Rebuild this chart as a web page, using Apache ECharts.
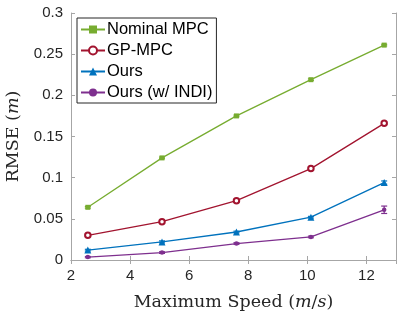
<!DOCTYPE html>
<html><head><meta charset="utf-8">
<script src="https://cdn.jsdelivr.net/npm/echarts@6/dist/echarts.min.js"></script>
<style>html,body{margin:0;padding:0;background:#fff}#c{width:407px;height:312px}</style>
</head><body><div id="c"></div>
<script>
const speeds = [2.57, 5.08, 7.6, 10.12, 12.6];
const seriesNames = ['Nominal MPC', 'GP-MPC', 'Ours', 'Ours (w/ INDI)'];
const nominal = [0.064, 0.124, 0.175, 0.219, 0.261];
const gpmpc = [0.030, 0.0465, 0.072, 0.111, 0.166];
const ours = [0.012, 0.022, 0.034, 0.052, 0.094];
const oursIndi = [0.0035, 0.009, 0.020, 0.028, 0.061];
const errNominal = [0.001, 0.001, 0.001, 0.001, 0.001];
const errGp = [0.001, 0.001, 0.001, 0.001, 0.0012];
const errOurs = [0.001, 0.0012, 0.001, 0.001, 0.002];
const errIndi = [0.0008, 0.001, 0.001, 0.001, 0.0045];
const xTicks = [2, 4, 6, 8, 10, 12];
const yTicks = [0, 0.05, 0.1, 0.15, 0.2, 0.25, 0.3];

const colors = ['#77AC30', '#A2142F', '#0072BD', '#7E2F8E'];
const symbols = ['rect', 'emptyCircle', 'triangle', 'circle'];
const symSizes = [5, 5.5, 7, 4.5];
const vals = [nominal, gpmpc, ours, oursIndi];
const errs = [errNominal, errGp, errOurs, errIndi];

const chart = echarts.init(document.getElementById('c'));
const axisGrey = '#a6a6a6';
const series = [];
vals.forEach((v, i) => {
  series.push({
    name: seriesNames[i], type: 'line', xAxisIndex: 0, yAxisIndex: 0,
    data: speeds.map((s, k) => [s, v[k]]),
    symbol: symbols[i], symbolSize: symSizes[i],
    itemStyle: { color: colors[i], borderWidth: 1.5 },
    lineStyle: { width: 1.3, color: colors[i] }, z: 3
  });
  series.push({
    name: seriesNames[i], type: 'custom', xAxisIndex: 0, yAxisIndex: 0,
    data: speeds.map((s, k) => [s, v[k] - errs[i][k], v[k] + errs[i][k]]),
    renderItem: (params, api) => {
      const lo = api.coord([api.value(0), api.value(1)]);
      const hi = api.coord([api.value(0), api.value(2)]);
      const w = 3;
      const st = { stroke: colors[i], lineWidth: 1.2 };
      return { type: 'group', children: [
        { type: 'line', shape: { x1: lo[0], y1: lo[1], x2: hi[0], y2: hi[1] }, style: st },
        { type: 'line', shape: { x1: lo[0] - w, y1: lo[1], x2: lo[0] + w, y2: lo[1] }, style: st },
        { type: 'line', shape: { x1: hi[0] - w, y1: hi[1], x2: hi[0] + w, y2: hi[1] }, style: st }
      ]};
    }, z: 2, silent: true
  });
});

const tickLabelStyle = { color: '#262626', fontFamily: 'Liberation Sans', fontSize: 15 };
const serifRich = {
  n: { fontFamily: 'DejaVu Serif', fontSize: 17.5, color: '#262626' },
  i: { fontFamily: 'DejaVu Serif', fontStyle: 'italic', fontSize: 17.5, color: '#262626' }
};
chart.setOption({
  animation: false,
  grid: { left: 71, right: 11, top: 13, bottom: 52, show: false, containLabel: false, outerBoundsMode: 'none' },
  legend: {
    data: seriesNames, left: 77, top: 18, orient: 'vertical',
    backgroundColor: '#fff', borderColor: '#262626', borderWidth: 1,
    padding: [3, 4, 2, 3], itemGap: 4, itemWidth: 24, itemHeight: 10,
    textStyle: { fontFamily: 'Liberation Sans', fontSize: 16.5, lineHeight: 17, color: '#000', padding: [0, 0, 0, -3] }
  },
  xAxis: [{
    type: 'value', min: 2, max: 13, interval: 2,
    axisLine: { show: true, lineStyle: { color: axisGrey } },
    axisTick: { inside: true, length: 4, lineStyle: { color: axisGrey } },
    splitLine: { show: false },
    axisLabel: Object.assign({ margin: 8, showMaxLabel: false }, tickLabelStyle),
    name: '{n|Maximum Speed (}{i|m}{n|/}{i|s}{n|)}', nameLocation: 'middle', nameGap: 33,
    nameTextStyle: { rich: serifRich }
  }, {
    type: 'value', min: 2, max: 13, interval: 2, position: 'top',
    axisLine: { show: true, lineStyle: { color: axisGrey } },
    axisTick: { inside: true, length: 4, lineStyle: { color: axisGrey } },
    axisLabel: { show: false }, splitLine: { show: false }
  }],
  yAxis: [{
    type: 'value', min: 0, max: 0.3, interval: 0.05,
    axisLine: { show: true, lineStyle: { color: axisGrey } },
    axisTick: { inside: true, length: 4, lineStyle: { color: axisGrey } },
    splitLine: { show: false },
    axisLabel: Object.assign({ margin: 8, formatter: v => String(+v.toFixed(2)) }, tickLabelStyle),
    name: '{n|RMSE (}{i|m}{n|)}', nameLocation: 'middle', nameGap: 45, nameRotate: 90,
    nameTextStyle: { rich: serifRich }
  }, {
    type: 'value', min: 0, max: 0.3, interval: 0.05, position: 'right',
    axisLine: { show: true, lineStyle: { color: axisGrey } },
    axisTick: { inside: true, length: 4, lineStyle: { color: axisGrey } },
    axisLabel: { show: false }, splitLine: { show: false }
  }],
  series: series
});
</script></body></html>
